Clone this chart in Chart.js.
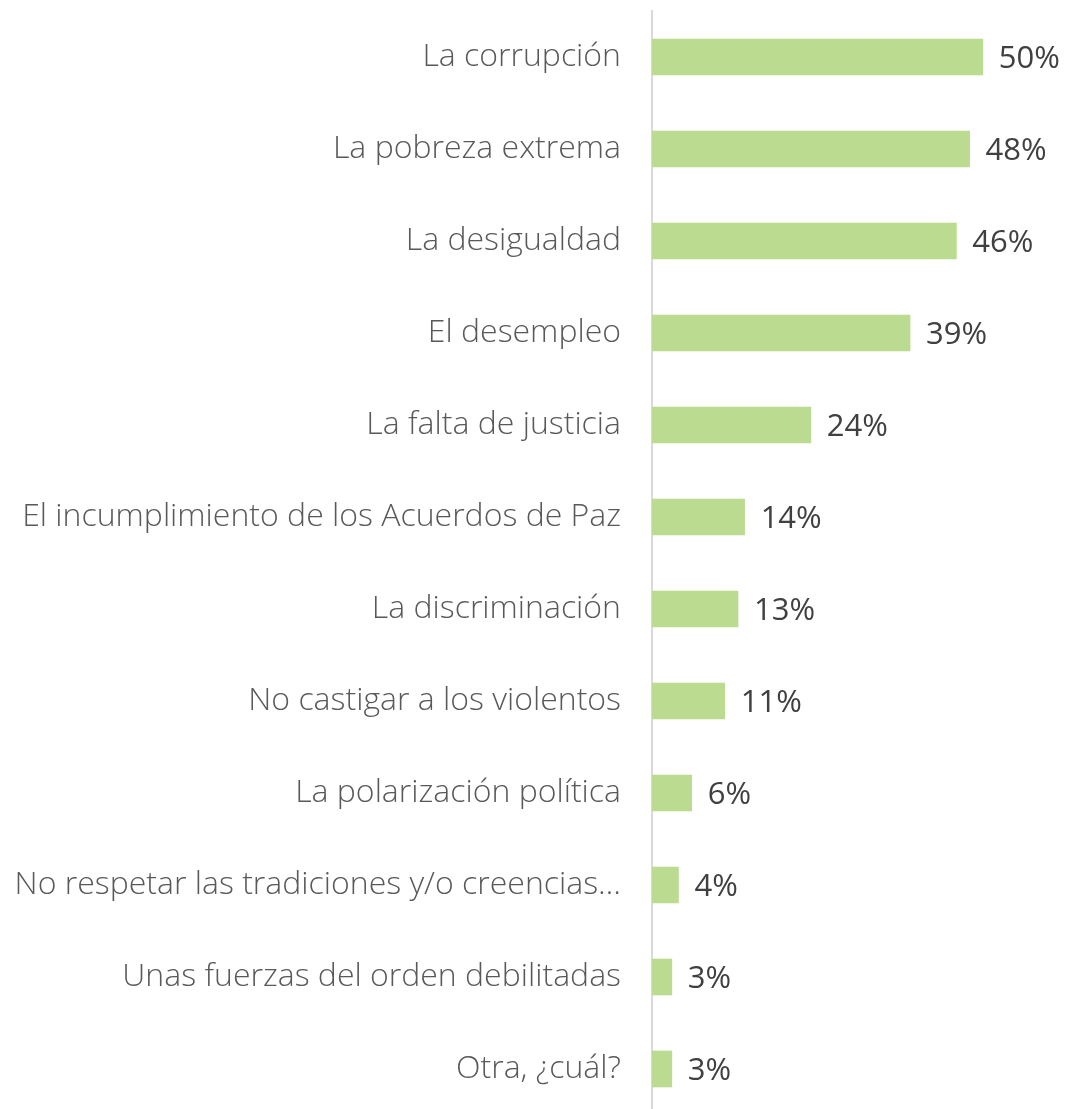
<!DOCTYPE html>
<html>
<head>
<meta charset="utf-8">
<script src="https://cdn.jsdelivr.net/npm/chart.js@4"></script>
<style>
html,body{margin:0;padding:0;background:#fff;width:1068px;height:1109px;overflow:hidden;}
#c{display:block;}
</style>
</head>
<body>
<canvas id="c" width="1068" height="1115"></canvas>
<script>
const categories = [
  "La corrupción",
  "La pobreza extrema",
  "La desigualdad",
  "El desempleo",
  "La falta de justicia",
  "El incumplimiento de los Acuerdos de Paz",
  "La discriminación",
  "No castigar a los violentos",
  "La polarización política",
  "No respetar las tradiciones y/o creencias…",
  "Unas fuerzas del orden debilitadas",
  "Otra, ¿cuál?"
];
const values = [50, 48, 46, 39, 24, 14, 13, 11, 6, 4, 3, 3];
const valueLabels = ["50%", "48%", "46%", "39%", "24%", "14%", "13%", "11%", "6%", "4%", "3%", "3%"];

const valueLabelPlugin = {
  id: 'valueLabels',
  afterDatasetsDraw(chart) {
    const ctx = chart.ctx;
    const meta = chart.getDatasetMeta(0);
    ctx.save();
    ctx.font = '400 31px "Open Sans", sans-serif';
    ctx.fillStyle = '#404040';
    ctx.textAlign = 'left';
    ctx.textBaseline = 'middle';
    meta.data.forEach((bar, i) => {
      ctx.fillText(valueLabels[i], bar.x + 16, bar.y + 2);
    });
    ctx.restore();
  }
};

new Chart(document.getElementById('c'), {
  type: 'bar',
  data: {
    labels: categories,
    datasets: [{
      data: values,
      backgroundColor: '#BBDB91',
      borderWidth: 0,
      barThickness: 36
    }]
  },
  options: {
    indexAxis: 'y',
    responsive: false,
    animation: false,
    layout: { padding: { top: 11, bottom: 0, left: 0, right: 19 } },
    plugins: { legend: { display: false }, tooltip: { enabled: false } },
    scales: {
      x: { display: false, min: 0, max: 60 },
      y: {
        afterFit(axis) { axis.width = 652; axis.paddingTop = 0; axis.paddingBottom = 0; },
        grid: { display: false, drawTicks: false },
        border: { display: true, color: '#D9D9D9', width: 2 },
        ticks: {
          padding: 31,
          color: '#595959',
          font: { family: '"Open Sans", sans-serif', size: 32, weight: '300' }
        }
      }
    }
  },
  plugins: [valueLabelPlugin]
});
</script>
</body>
</html>
